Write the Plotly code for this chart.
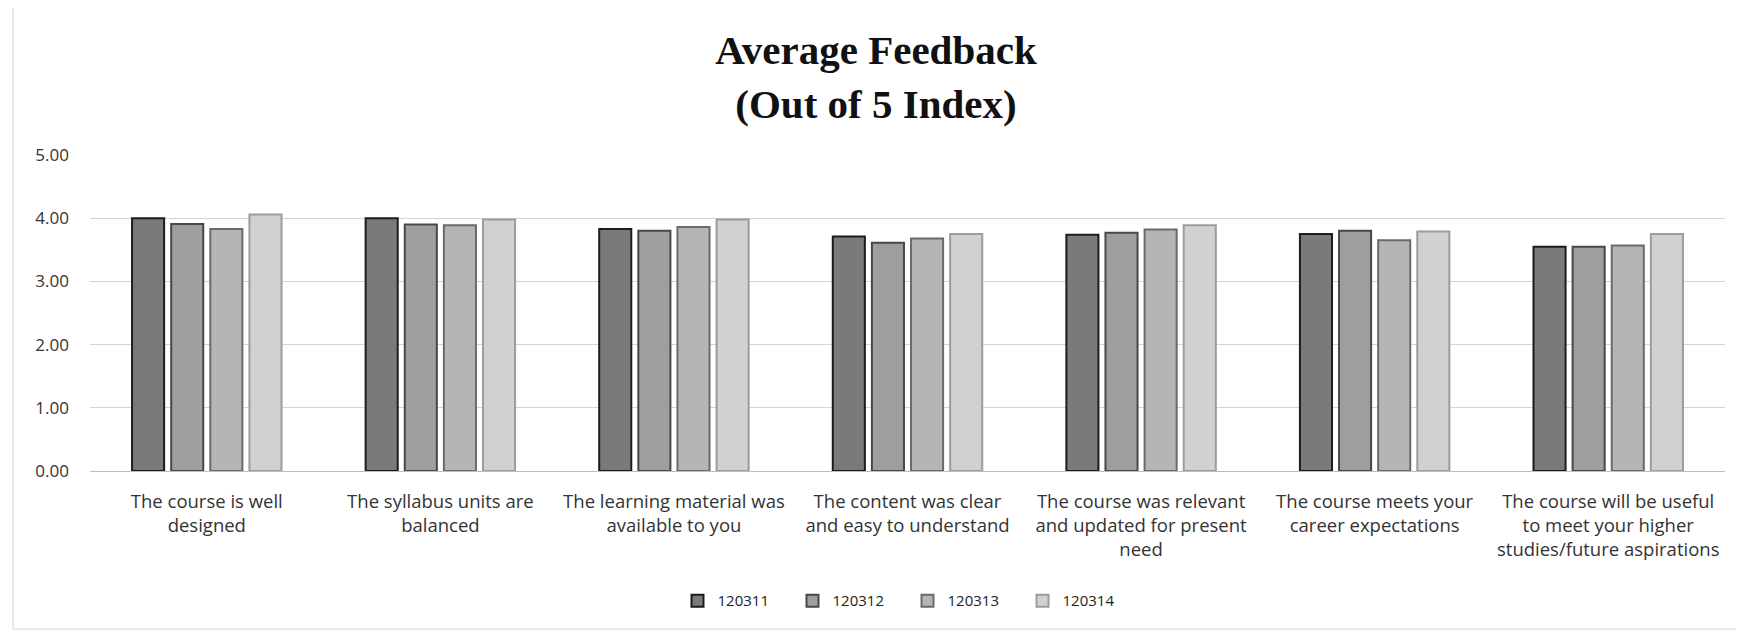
import plotly.graph_objects as go

# Feedback questions (x categories)
questions = [
    "The course is well<br>designed",
    "The syllabus units are<br>balanced",
    "The learning material was<br>available to you",
    "The content was clear<br>and easy to understand",
    "The course was relevant<br>and updated for present<br>need",
    "The course meets your<br>career expectations",
    "The course will be useful<br>to meet your higher<br>studies/future aspirations",
]

# Average score per batch
s120311 = [4.00, 4.00, 3.83, 3.71, 3.74, 3.75, 3.55]
s120312 = [3.91, 3.90, 3.80, 3.61, 3.77, 3.80, 3.55]
s120313 = [3.83, 3.89, 3.86, 3.68, 3.82, 3.65, 3.57]
s120314 = [4.06, 3.98, 3.98, 3.75, 3.89, 3.79, 3.75]

series = [
    ("120311", s120311, "#7a7a7a", "#1c1c1c"),
    ("120312", s120312, "#9e9e9e", "#484848"),
    ("120313", s120313, "#b5b5b5", "#6a6a6a"),
    ("120314", s120314, "#d3d0d0", "#9c9c9c"),
]

fig = go.Figure()
for name, vals, fill, edge in series:
    fig.add_trace(go.Bar(
        name=name, x=questions, y=vals,
        marker=dict(color=fill, line=dict(color=edge, width=2)),
    ))

# page body has an 8px margin, so the figure is sized to fill the window
fig.update_layout(
    width=1736, height=626,
    paper_bgcolor="white", plot_bgcolor="white",
    margin=dict(l=82, r=19, t=147, b=163),
    barmode="group", bargap=0.33, bargroupgap=0.18,
    font=dict(family="Open Sans, Liberation Sans, sans-serif", size=16, color="#3a3a3a"),
    title=dict(
        text="<b>Average Feedback<br>(Out of 5 Index)</b>",
        font=dict(family="Liberation Serif, Times New Roman, serif", size=41, color="#111111"),
        xref="container", x=0.5, xanchor="center",
        yref="container", y=0.91, yanchor="top",
    ),
    legend=dict(
        orientation="h", x=0.5, xanchor="center", y=-0.411, yanchor="middle",
        font=dict(size=15, color="#222222"), itemwidth=30,
        entrywidth=70, entrywidthmode="pixels",
    ),
    shapes=[dict(
        type="rect", xref="paper", yref="paper",
        x0=-0.047, x1=1.008, y0=-0.5, y1=1.478,
        line=dict(color="#d6d6d6", width=1), layer="below",
    )],
)

fig.update_yaxes(
    range=[0, 5], tickvals=[0, 1, 2, 3, 4, 5], tickformat=".2f",
    showgrid=True, gridcolor="#d4d4d4", gridwidth=1,
    zeroline=True, zerolinecolor="#bdbdbd", zerolinewidth=1,
    showline=False, tickfont=dict(size=17, color="#333333"),
    ticklabelstandoff=20,
)
fig.update_xaxes(
    showline=False, showgrid=False, tickangle=0,
    tickfont=dict(size=18.5, color="#333333"), ticklabelstandoff=17,
)

fig.write_html("out.html")
